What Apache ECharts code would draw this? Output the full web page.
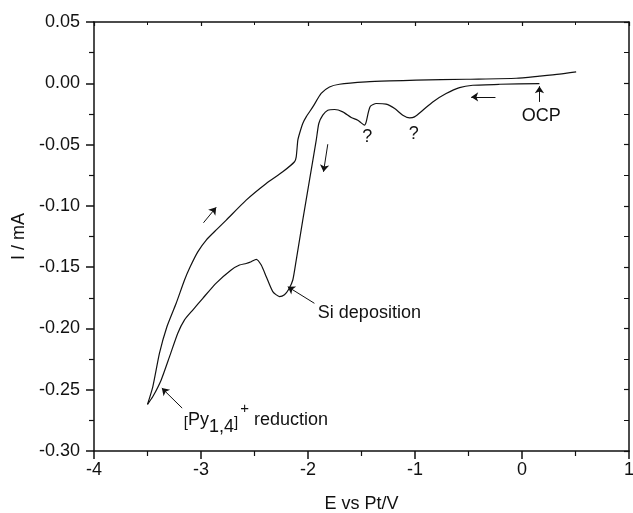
<!DOCTYPE html>
<html>
<head>
<meta charset="UTF-8">
<title>CV</title>
<script src="https://cdn.jsdelivr.net/npm/echarts@6/dist/echarts.min.js"></script>
<style>
  html, body { margin: 0; padding: 0; background: #fff; }
  #chart { width: 633px; height: 513px; }
</style>
</head>
<body>
<div id="chart"></div>
<script>
// forward scan, from OCP towards -3.5 V
var fwdE = [0.163, -0.21, -0.46, -0.584, -0.709, -0.834, -0.927, -1.005, -1.05, -1.114, -1.19, -1.27, -1.363, -1.416, -1.435, -1.456, -1.472, -1.503, -1.535, -1.596, -1.675, -1.752, -1.815, -1.862, -1.899, -1.923, -1.986, -2.049, -2.11, -2.142, -2.18, -2.22, -2.266, -2.329, -2.39, -2.437, -2.484, -2.531, -2.578, -2.64, -2.718, -2.858, -2.983, -3.077, -3.154, -3.217, -3.294, -3.372, -3.45, -3.5];
var fwdI = [-0.0002, -0.0008, -0.0016, -0.0035, -0.0084, -0.0152, -0.022, -0.0274, -0.0282, -0.026, -0.0206, -0.017, -0.0165, -0.0187, -0.0233, -0.0315, -0.0342, -0.0323, -0.0301, -0.0279, -0.0233, -0.0214, -0.022, -0.026, -0.0328, -0.0464, -0.079, -0.1116, -0.1442, -0.1605, -0.168, -0.1725, -0.174, -0.170, -0.1578, -0.1483, -0.1436, -0.1456, -0.147, -0.1483, -0.1523, -0.163, -0.1754, -0.185, -0.193, -0.2039, -0.223, -0.242, -0.2556, -0.262];

// reverse scan, from -3.5 V back to 0.5 V
var revE = [-3.5, -3.45, -3.388, -3.32, -3.232, -3.154, -3.1, -3.03, -2.951, -2.85, -2.764, -2.578, -2.39, -2.236, -2.126, -2.11, -2.095, -2.079, -2.049, -2.017, -1.955, -1.877, -1.799, -1.706, -1.456, -1.238, -0.989, -0.52, -0.054, 0.163, 0.35, 0.506];
var revI = [-0.262, -0.2474, -0.2202, -0.199, -0.1795, -0.1605, -0.1495, -0.1375, -0.1279, -0.119, -0.1116, -0.0953, -0.0817, -0.0722, -0.064, -0.06, -0.0464, -0.041, -0.0328, -0.0274, -0.0193, -0.0083, -0.003, -0.0008, 0.0011, 0.0019, 0.0025, 0.0033, 0.0041, 0.0058, 0.0074, 0.0093];

// annotation arrows: [fromE, fromI, toE, toI]
var arrows = [
  [-2.977, -0.1138, -2.858, -0.1012],
  [-1.815, -0.0497, -1.855, -0.0722],
  [-0.248, -0.0111, -0.475, -0.0111],
  [0.163, -0.0152, 0.163, -0.0024],
  [-1.94, -0.1795, -2.189, -0.166],
  [-3.176, -0.265, -3.366, -0.2487]
];

// centred labels
var centerLabels = [
  { text: 'OCP', at: [0.18, -0.0268] },
  { text: '?', at: [-1.447, -0.0437] },
  { text: '?', at: [-1.011, -0.0415] }
];
// left-aligned labels
var leftLabels = [
  { text: 'Si deposition', at: [-1.908, -0.1876] },
  { text: '{s|[}{m|Py}{sub|1,4}{s|]}{sup|+}{m| reduction}', at: [-3.161, -0.2746] }
];

function pairs(xs, ys) {
  var out = [];
  for (var i = 0; i < xs.length; i++) out.push([xs[i], ys[i]]);
  return out;
}

var FONT = '"Liberation Sans", Arial, sans-serif';
var ink = '#111';

var chart = echarts.init(document.getElementById('chart'), null, { renderer: 'canvas' });

var mainAxisLine = { show: true, onZero: false, lineStyle: { color: ink, width: 1.5 } };

var option = {
  animation: false,
  backgroundColor: '#fff',
  grid: { left: 94, right: 4, top: 22, bottom: 62, outerBoundsMode: 'none' },
  xAxis: [{
    type: 'value', min: -4, max: 1, interval: 1,
    position: 'bottom',
    name: 'E vs Pt/V', nameLocation: 'middle', nameGap: 44,
    nameTextStyle: { fontFamily: FONT, fontSize: 18, color: ink },
    axisLine: mainAxisLine,
    axisTick: { show: true, inside: false, length: 8, lineStyle: { color: ink, width: 1.5 } },
    minorTick: { show: true, splitNumber: 2, length: 5, lineStyle: { color: ink, width: 1.2 } },
    axisLabel: { fontFamily: FONT, fontSize: 18, color: ink, margin: 10 },
    splitLine: { show: false }
  }, {
    type: 'value', min: -4, max: 1, interval: 1,
    position: 'top',
    axisLine: mainAxisLine,
    axisTick: { show: true, inside: true, length: 4, lineStyle: { color: ink, width: 1.2 } },
    minorTick: { show: true, splitNumber: 2, length: 3, lineStyle: { color: ink } },
    axisLabel: { show: false },
    splitLine: { show: false }
  }],
  yAxis: [{
    type: 'value', min: -0.3, max: 0.05, interval: 0.05,
    position: 'left',
    name: 'I / mA', nameLocation: 'middle', nameGap: 64,
    nameTextStyle: { fontFamily: FONT, fontSize: 18, color: ink },
    axisLine: mainAxisLine,
    axisTick: { show: true, inside: false, length: 8, lineStyle: { color: ink, width: 1.5 } },
    minorTick: { show: true, splitNumber: 2, length: 5, lineStyle: { color: ink, width: 1.2 } },
    axisLabel: {
      fontFamily: FONT, fontSize: 18, color: ink, margin: 14,
      formatter: function (v) { return v.toFixed(2); }
    },
    splitLine: { show: false }
  }, {
    type: 'value', min: -0.3, max: 0.05, interval: 0.05,
    position: 'right',
    axisLine: mainAxisLine,
    axisTick: { show: true, inside: true, length: 5, lineStyle: { color: ink, width: 1.2 } },
    minorTick: { show: true, splitNumber: 2, length: 5, lineStyle: { color: ink } },
    axisLabel: { show: false },
    splitLine: { show: false }
  }],
  series: [{
    type: 'line', name: 'forward',
    data: pairs(fwdE, fwdI),
    smooth: 0.2, showSymbol: false, symbol: 'none',
    lineStyle: { color: ink, width: 1.2 }
  }, {
    type: 'line', name: 'reverse',
    data: pairs(revE, revI),
    smooth: 0.2, showSymbol: false, symbol: 'none',
    lineStyle: { color: ink, width: 1.2 },
    markLine: {
      silent: true,
      symbol: ['none', 'arrow'],
      symbolSize: 7,
      label: { show: false },
      lineStyle: { color: ink, width: 1, type: 'solid' },
      data: arrows.map(function (a) {
        return [{ coord: [a[0], a[1]] }, { coord: [a[2], a[3]] }];
      })
    }
  }, {
    type: 'scatter', name: 'labelsC',
    symbolSize: 0, silent: true,
    itemStyle: { opacity: 1 },
    data: centerLabels.map(function (l) { return { value: l.at, name: l.text }; }),
    label: {
      show: true, position: 'inside', opacity: 1,
      formatter: function (p) { return p.name; },
      fontFamily: FONT, fontSize: 18, color: ink
    }
  }, {
    type: 'scatter', name: 'labelsL',
    symbolSize: 0, silent: true,
    itemStyle: { opacity: 1 },
    data: leftLabels.map(function (l) { return { value: l.at, name: l.text }; }),
    label: {
      show: true, position: 'right', distance: 0, opacity: 1,
      formatter: function (p) { return p.name; },
      fontFamily: FONT, fontSize: 18, color: ink,
      rich: {
        m: { fontFamily: FONT, fontSize: 18, color: ink },
        s: { fontFamily: FONT, fontSize: 15, color: ink, padding: [6, 0, 0, 0] },
        sub: { fontFamily: FONT, fontSize: 18, color: ink, padding: [14, 0, 0, 0] },
        sup: { fontFamily: FONT, fontSize: 15, color: ink, padding: [0, 0, 22, 2] }
      }
    }
  }]
};

chart.setOption(option);
</script>
</body>
</html>
